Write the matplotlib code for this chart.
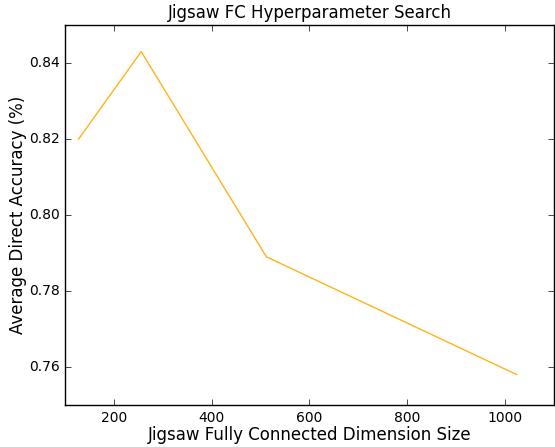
import matplotlib
matplotlib.use("Agg")
import matplotlib.pyplot as plt

fc_sizes = [128, 256, 512, 1024]
accuracy = [0.820, 0.843, 0.789, 0.758]

plt.style.use('classic')
fig = plt.figure(figsize=(5.55, 4.47), dpi=100)
fig.patch.set_facecolor('white')
ax = fig.add_axes([0.117, 0.094, 0.881, 0.850])
ax.plot(fc_sizes, accuracy, color='#ffb31a', linewidth=1.0)
ax.set_xlim(100, 1100)
ax.set_ylim(0.75, 0.85)
ax.set_xticks([200, 400, 600, 800, 1000])
ax.set_yticks([0.76, 0.78, 0.80, 0.82, 0.84])
ax.tick_params(labelsize=10)
ax.set_title('Jigsaw FC Hyperparameter Search', fontsize=12)
ax.set_xlabel('Jigsaw Fully Connected Dimension Size', fontsize=12, labelpad=1)
ax.set_ylabel('Average Direct Accuracy (%)', fontsize=12, labelpad=1)
fig.savefig('out.png', dpi=100, facecolor='white')
